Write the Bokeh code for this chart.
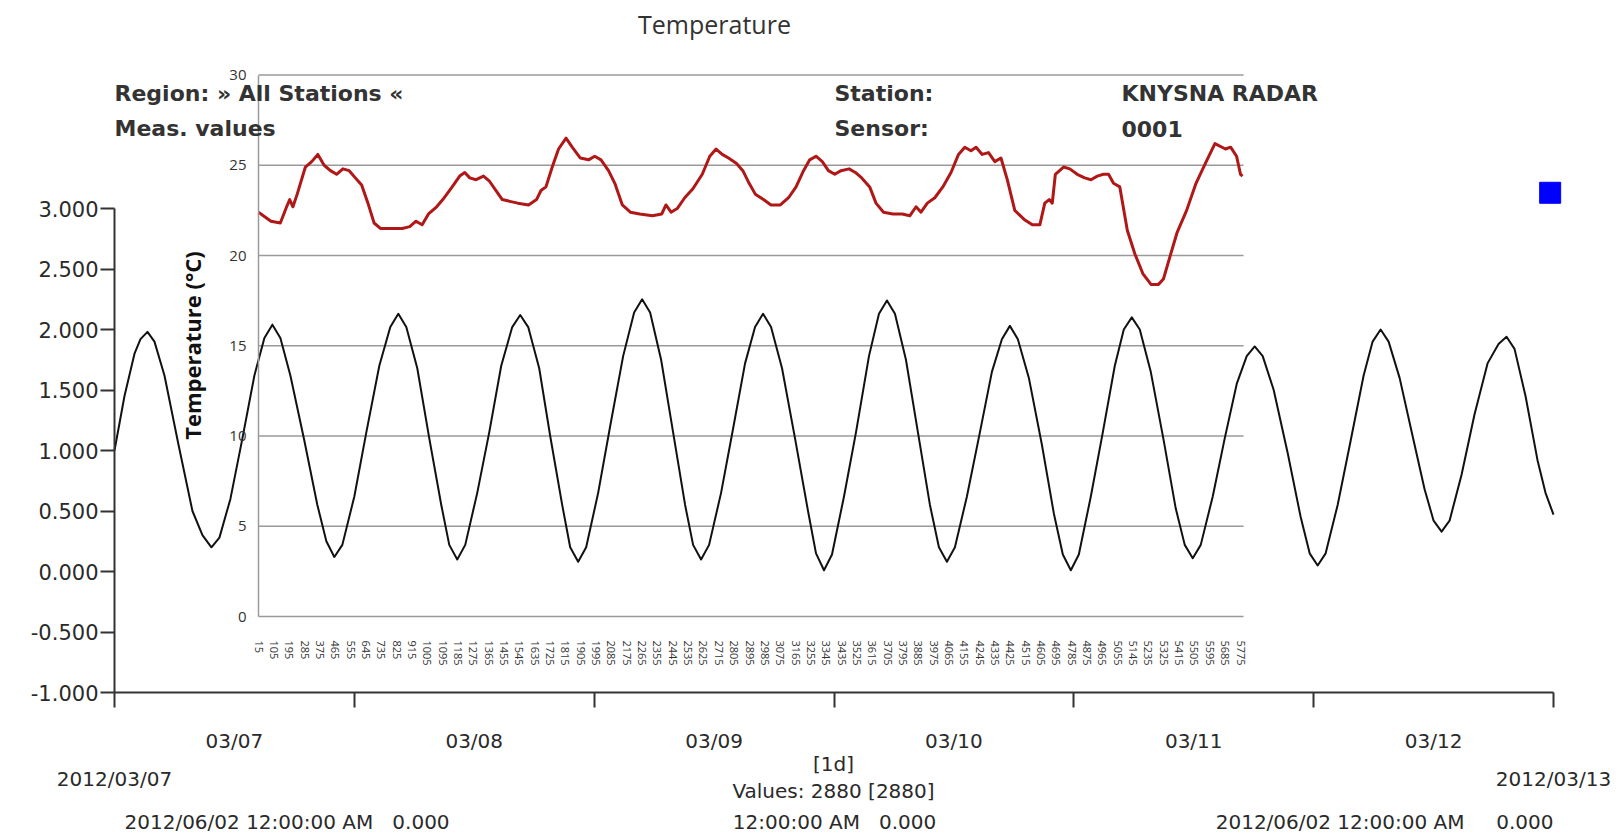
import math
import pandas as pd
from bokeh.plotting import figure
from bokeh.models import (Range1d, LinearAxis, DatetimeAxis, FixedTicker,
                          NumeralTickFormatter, DatetimeTickFormatter, Label)
from bokeh.embed import file_html
from bokeh.resources import INLINE

# ---------------- data ----------------
days = ["2012-03-07", "2012-03-08", "2012-03-09", "2012-03-10",
        "2012-03-11", "2012-03-12", "2012-03-13"]

# water level (main chart), hours since 2012-03-07 00:00
tide_hours = [0.0, 1.0, 2.0, 2.6, 3.3, 4.0, 5.0, 6.4, 7.8, 8.8, 9.7, 10.5, 11.6, 12.8, 14.0,
              15.0, 15.8, 16.6, 17.6, 19.0, 20.3, 21.2, 22.0, 22.8, 24.0, 25.2, 26.5, 27.6, 28.4, 29.2,
              30.3, 31.5, 32.7, 33.5, 34.3, 35.1, 36.3, 37.5, 38.7, 39.8, 40.6, 41.4, 42.5, 43.6, 44.8,
              45.6, 46.4, 47.2, 48.4, 49.6, 50.9, 52.0, 52.8, 53.6, 54.7, 55.9, 57.1, 57.9, 58.7, 59.5,
              60.7, 61.9, 63.1, 64.1, 64.9, 65.7, 66.8, 68.1, 69.4, 70.2, 71.0, 71.8, 73.0, 74.2, 75.5,
              76.5, 77.3, 78.1, 79.2, 80.4, 81.6, 82.5, 83.3, 84.1, 85.3, 86.6, 87.8, 88.8, 89.6, 90.4,
              91.5, 92.8, 94.0, 94.9, 95.7, 96.5, 97.7, 98.9, 100.1, 101.0, 101.8, 102.6, 103.7, 105.0, 106.2,
              107.1, 107.9, 108.7, 109.9, 111.1, 112.3, 113.3, 114.1, 114.9, 116.0, 117.4, 118.7, 119.6, 120.4, 121.2,
              122.4, 123.7, 125.0, 125.9, 126.7, 127.5, 128.6, 129.9, 131.1, 132.0, 132.8, 133.6, 134.8, 136.1, 137.4,
              138.5, 139.3, 140.1, 141.2, 142.4, 143.2, 144.0]
tide_level = [1.00, 1.45, 1.80, 1.92, 1.98, 1.90, 1.62, 1.05, 0.50, 0.30, 0.20, 0.28, 0.60, 1.10, 1.62,
              1.93, 2.04, 1.93, 1.62, 1.08, 0.55, 0.25, 0.12, 0.22, 0.62, 1.15, 1.70, 2.02, 2.13, 2.02,
              1.68, 1.10, 0.55, 0.22, 0.10, 0.22, 0.65, 1.15, 1.70, 2.02, 2.12, 2.02, 1.68, 1.12, 0.55,
              0.20, 0.08, 0.20, 0.65, 1.20, 1.78, 2.14, 2.25, 2.14, 1.75, 1.15, 0.55, 0.22, 0.10, 0.22,
              0.65, 1.18, 1.72, 2.02, 2.13, 2.02, 1.68, 1.10, 0.50, 0.15, 0.01, 0.14, 0.62, 1.15, 1.78,
              2.13, 2.24, 2.13, 1.75, 1.15, 0.55, 0.20, 0.08, 0.20, 0.62, 1.15, 1.65, 1.92, 2.03, 1.92,
              1.60, 1.05, 0.48, 0.14, 0.01, 0.14, 0.62, 1.15, 1.70, 2.00, 2.10, 2.00, 1.65, 1.08, 0.52,
              0.22, 0.11, 0.22, 0.62, 1.10, 1.55, 1.78, 1.86, 1.78, 1.50, 0.98, 0.45, 0.15, 0.05, 0.15,
              0.55, 1.08, 1.62, 1.90, 2.00, 1.90, 1.60, 1.12, 0.68, 0.42, 0.33, 0.42, 0.80, 1.30, 1.72,
              1.88, 1.94, 1.84, 1.45, 0.92, 0.65, 0.47]
main_y_ticks = [-1.0, -0.5, 0.0, 0.5, 1.0, 1.5, 2.0, 2.5, 3.0]

# temperature (inset chart)
temp_index = [15, 88, 143, 180, 198, 217, 242, 290, 327, 363, 400, 437, 473, 510, 547, 583, 620, 657, 693, 730,
              785, 858, 902, 939, 975, 1012, 1060, 1096, 1151, 1195, 1225, 1254, 1291, 1335, 1371, 1408, 1445,
              1489, 1536, 1599, 1646, 1672, 1701, 1738, 1775, 1819, 1855, 1903, 1951, 1987, 2024, 2068, 2105,
              2149, 2196, 2251, 2325, 2380, 2405, 2435, 2471, 2515, 2563, 2618, 2662, 2699, 2735, 2772, 2819,
              2856, 2893, 2929, 2977, 3021, 3076, 3124, 3168, 3212, 3248, 3285, 3322, 3358, 3395, 3432, 3479,
              3516, 3553, 3600, 3637, 3681, 3736, 3791, 3835, 3872, 3901, 3938, 3982, 4029, 4077, 4121, 4158,
              4194, 4224, 4260, 4297, 4334, 4370, 4407, 4451, 4506, 4554, 4598, 4627, 4653, 4671, 4689, 4737,
              4774, 4817, 4861, 4898, 4935, 4971, 5001, 5030, 5067, 5111, 5155, 5202, 5250, 5294, 5323, 5360,
              5404, 5459, 5514, 5569, 5625, 5687, 5717, 5752, 5775, 5787]
temp_c = [22.4, 21.9, 21.8, 22.7, 23.1, 22.7, 23.4, 24.9, 25.2, 25.6, 25.0, 24.7, 24.5, 24.8, 24.7, 24.3, 23.9, 22.9, 21.8, 21.5,
          21.5, 21.5, 21.6, 21.9, 21.7, 22.3, 22.7, 23.1, 23.8, 24.4, 24.6, 24.3, 24.2, 24.4, 24.1, 23.6, 23.1,
          23.0, 22.9, 22.8, 23.1, 23.6, 23.8, 24.9, 25.9, 26.5, 26.0, 25.4, 25.3, 25.5, 25.3, 24.7, 24.0,
          22.8, 22.4, 22.3, 22.2, 22.3, 22.8, 22.4, 22.6, 23.2, 23.7, 24.5, 25.5, 25.9, 25.6, 25.4, 25.1,
          24.7, 24.0, 23.4, 23.1, 22.8, 22.8, 23.2, 23.8, 24.7, 25.3, 25.5, 25.2, 24.7, 24.5, 24.7, 24.8,
          24.6, 24.3, 23.8, 22.9, 22.4, 22.3, 22.3, 22.2, 22.7, 22.4, 22.9, 23.2, 23.8, 24.6, 25.6, 26.0,
          25.8, 26.0, 25.6, 25.7, 25.2, 25.4, 24.2, 22.5, 22.0, 21.7, 21.7, 22.9, 23.1, 22.9, 24.5, 24.9,
          24.8, 24.5, 24.3, 24.2, 24.4, 24.5, 24.5, 24.0, 23.8, 21.4, 20.1, 19.0, 18.4, 18.4, 18.7, 19.9,
          21.3, 22.5, 24.0, 25.1, 26.2, 25.9, 26.0, 25.5, 24.5, 24.4]
inset_x_ticks = list(range(15, 5776, 90))
inset_y_ticks = [0, 5, 10, 15, 20, 25, 30]
inset_x_extent = [15, 5793]

marker_time = ["2012-03-12 23:40"]
marker_level = [3.13]

# ---------------- layout (page pixels; the plot frame spans the whole page) ----------------
W, H = 1623, 836
X_START_PX, X_END_PX = 114, 1553      # days[0], days[-1]
YM1_PX, Y3_PX = 692, 208              # main y = -1, 3
IX_A_PX, IX_B_PX = 258, 1240          # inset index 15, 5775
IY0_PX, IY30_PX = 616, 74.5           # inset 0 and 30 degC


def interp(v0, p0, v1, p1, p):
    return v0 + (p - p0) * (v1 - v0) / (p1 - p0)


def ms(s):
    return float(pd.Timestamp(s).value // 10**6)


day_ms = [ms(d) for d in days]
noon_ms = [d + 12 * 3.6e6 for d in day_ms[:-1]]
tide_x = [day_ms[0] + h * 3.6e6 for h in tide_hours]
marker_x = [ms(t) for t in marker_time]


def mx(px):
    return interp(day_ms[0], X_START_PX, day_ms[-1], X_END_PX, px)


def my(py):
    return interp(-1.0, YM1_PX, 3.0, Y3_PX, py)


def ix(px):
    return interp(inset_x_ticks[0], IX_A_PX, inset_x_ticks[-1], IX_B_PX, px)


def iy(py):
    return interp(0.0, IY0_PX, 30.0, IY30_PX, py)


p = figure(x_axis_type="datetime",
           x_range=Range1d(mx(0), mx(W)),
           y_range=Range1d(my(H), my(0)),
           frame_width=W, frame_height=H,
           min_border_left=0, min_border_right=0, min_border_top=0, min_border_bottom=0,
           toolbar_location=None, output_backend="svg",
           outline_line_color=None, background_fill_color="white", border_fill_color="white")
p.extra_x_ranges = {"ix": Range1d(ix(0), ix(W))}
p.extra_y_ranges = {"iy": Range1d(iy(H), iy(0))}
p.xgrid.visible = False
p.ygrid.visible = False

AX_COL = "#333333"
TXT = "#2a2a2a"
FONT = "DejaVu Sans"

# main y axis at the first day
ya = p.yaxis[0]
ya.fixed_location = day_ms[0]
ya.ticker = FixedTicker(ticks=main_y_ticks)
ya.formatter = NumeralTickFormatter(format="0.000")
ya.bounds = (main_y_ticks[0], main_y_ticks[-1])
ya.axis_line_color = AX_COL
ya.axis_line_width = 2
ya.major_tick_line_color = AX_COL
ya.major_tick_line_width = 2
ya.major_tick_out = 14
ya.major_tick_in = 0
ya.minor_tick_line_color = None
ya.major_label_standoff = 2
ya.major_label_text_font = FONT
ya.major_label_text_font_size = "21px"
ya.major_label_text_color = TXT

# main x axis at y = -1: labels at noon, tick marks at midnight
xa = p.xaxis[0]
fmt_keys = ["microseconds", "milliseconds", "seconds", "minsec", "minutes",
            "hourmin", "hours", "days", "months", "years"]
xa.fixed_location = main_y_ticks[0]
xa.ticker = FixedTicker(ticks=noon_ms, minor_ticks=day_ms)
xa.formatter = DatetimeTickFormatter(**{k: "%m/%d" for k in fmt_keys})
xa.bounds = (day_ms[0], day_ms[-1])
xa.axis_line_color = AX_COL
xa.axis_line_width = 2
xa.major_tick_line_color = None
xa.major_tick_out = 0
xa.major_tick_in = 0
xa.minor_tick_line_color = AX_COL
xa.minor_tick_line_width = 2
xa.minor_tick_out = 15
xa.minor_tick_in = 0
xa.major_label_standoff = 21
xa.major_label_text_font = FONT
xa.major_label_text_font_size = "20px"
xa.major_label_text_color = TXT

# start / end date labels
da = DatetimeAxis(fixed_location=main_y_ticks[0],
                  ticker=FixedTicker(ticks=[day_ms[0], day_ms[-1]]),
                  formatter=DatetimeTickFormatter(**{k: "%Y/%m/%d" for k in fmt_keys}),
                  axis_line_color=None, major_tick_line_color=None, minor_tick_line_color=None,
                  major_tick_out=0, major_tick_in=0,
                  major_label_standoff=74, major_label_text_font=FONT,
                  major_label_text_font_size="20px", major_label_text_color=TXT)
p.add_layout(da, "below")

# inset grid lines
GRID = "#9a9a9a"
gy = inset_y_ticks[1:]
p.segment(x0=[inset_x_extent[0]] * len(gy), x1=[inset_x_extent[1]] * len(gy), y0=gy, y1=gy,
          x_range_name="ix", y_range_name="iy", line_color=GRID, line_width=1.5)

# inset axes
iya = LinearAxis(x_range_name="ix", y_range_name="iy", fixed_location=inset_x_extent[0],
                 ticker=FixedTicker(ticks=inset_y_ticks), bounds=(inset_y_ticks[0], inset_y_ticks[-1]),
                 axis_line_color=GRID, axis_line_width=1.5,
                 major_tick_line_color=None, major_tick_out=0, major_tick_in=0,
                 minor_tick_line_color=None, major_label_standoff=12,
                 major_label_text_font="Open Sans", major_label_text_font_size="15px",
                 major_label_text_color="#333333")
p.add_layout(iya, "left")

ixa = LinearAxis(x_range_name="ix", y_range_name="iy", fixed_location=inset_y_ticks[0],
                 ticker=FixedTicker(ticks=inset_x_ticks), bounds=tuple(inset_x_extent),
                 axis_line_color=GRID, axis_line_width=1.5,
                 major_tick_line_color=None, major_tick_out=0, major_tick_in=0,
                 minor_tick_line_color=None, major_label_standoff=24,
                 major_label_orientation="vertical",
                 major_label_text_font="Open Sans", major_label_text_font_size="11px",
                 major_label_text_color="#333333")
p.add_layout(ixa, "below")

# series
p.line(tide_x, tide_level, line_color="#111111", line_width=2, line_join="round")
p.line(temp_index, temp_c, x_range_name="ix", y_range_name="iy", line_color="#B01818",
       line_width=3, line_join="round")
p.scatter(marker_x, marker_level, marker="square", size=21, fill_color="#0000FF", line_color="#0000FF")


# texts
def lab(text, px, py, align="left", size="20px", style="normal", font=FONT, color=TXT, angle=0.0):
    p.add_layout(Label(x=mx(px), y=my(py), text=text, text_align=align, text_baseline="middle",
                       text_font=font, text_font_size=size, text_font_style=style,
                       text_color=color, angle=angle))


NB = "\u00a0\u00a0\u00a0"
HEAD = dict(size="22px", style="bold", color="#333333")
lab("Temperature", 714, 23, align="center", size="25px", font="Open Sans", color="#333333")
lab("Region: » All Stations «", 114, 93, **HEAD)
lab("Meas. values", 114, 128, **HEAD)
lab("Station:", 834, 93, **HEAD)
lab("Sensor:", 834, 128, **HEAD)
lab("KNYSNA RADAR", 1121, 93, **HEAD)
lab("0001", 1121, 128, **HEAD)
lab("Temperature (°C)", 191, 345, align="center", size="22px", style="bold",
    font="Open Sans", color="#111111", angle=math.pi / 2)
lab("[1d]", 833, 763, align="center")
lab("Values: 2880 [2880]", 833, 790, align="center")
lab("12:00:00 AM" + NB + "0.000", 834, 821, align="center")
lab("2012/06/02 12:00:00 AM" + NB + "0.000", 124, 821)
lab("2012/06/02 12:00:00 AM" + "\u00a0\u00a0\u00a0\u00a0\u00a0" + "0.000", 1553, 821, align="right")

open("out.html", "w").write(file_html(p, INLINE))
